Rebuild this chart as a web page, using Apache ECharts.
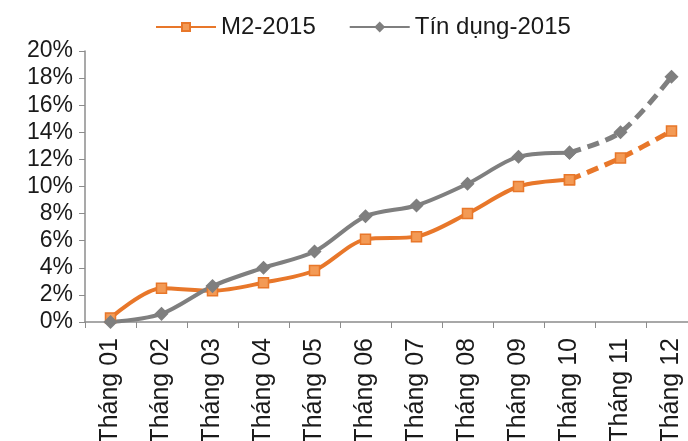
<!DOCTYPE html>
<html>
<head>
<meta charset="utf-8">
<script src="https://cdn.jsdelivr.net/npm/echarts@6/dist/echarts.min.js"></script>
<style>
  html, body { margin: 0; padding: 0; background: #fff; }
  #chart { width: 688px; height: 441px; }
</style>
</head>
<body>
<div id="chart"></div>
<script>
// data (percent)
var months = ["Tháng 01", "Tháng 02", "Tháng 03", "Tháng 04", "Tháng 05", "Tháng 06",
              "Tháng 07", "Tháng 08", "Tháng 09", "Tháng 10", "Tháng 11", "Tháng 12"];
var m2 = [0.3, 2.5, 2.3, 2.9, 3.8, 6.1, 6.3, 8.0, 10.0, 10.5, 12.1, 14.1];
var credit = [0.0, 0.6, 2.65, 4.0, 5.2, 7.8, 8.6, 10.2, 12.2, 12.5, 14.0, 18.1];
var yTicks = [0, 2, 4, 6, 8, 10, 12, 14, 16, 18, 20];
var forecastFrom = 9; // from Tháng 10 the lines are dashed

var ORANGE = "#E8772A";
var GRAY = "#7F7F7F";
var FONT = "Liberation Sans, Arial, sans-serif";

function actual(arr) {
  return arr.map(function (v, i) { return i <= forecastFrom ? v : null; });
}
function forecast(arr) {
  return arr.map(function (v, i) { return i >= forecastFrom ? v : null; });
}

function makeSeries(name, values, color, symbol, size, fill) {
  var base = {
    name: name,
    type: "line",
    smooth: 0.3,
    symbol: symbol,
    symbolSize: size,
    showAllSymbol: true,
    connectNulls: false,
    itemStyle: { color: fill, borderColor: color, borderWidth: 1.5 },
  };
  return [
    Object.assign({}, base, {
      data: actual(values),
      lineStyle: { color: color, width: 4 },
      z: 3,
    }),
    Object.assign({}, base, {
      data: forecast(values),
      lineStyle: { color: color, width: 5, type: [12, 7] },
      z: 2,
    }),
  ];
}

var chart = echarts.init(document.getElementById("chart"), null, { renderer: "canvas" });

chart.setOption({
  animation: false,
  backgroundColor: "#fff",
  legend: {
    data: ["M2-2015", "Tín dụng-2015"],
    left: 150,
    top: 10,
    itemWidth: 60,
    itemHeight: 10,
    itemGap: 33,
    textStyle: { fontFamily: FONT, fontSize: 24, color: "#1a1a1a" },
  },
  // labels run off the bottom edge as in the original, so keep the grid fixed
  grid: { left: 85, right: -9, top: 51, bottom: 119, containLabel: false, outerBoundsMode: "none" },
  xAxis: {
    type: "category",
    data: months,
    boundaryGap: true,
    axisLine: { lineStyle: { color: "#8c8c8c", width: 1.5 } },
    axisTick: { show: true, length: 6, inside: false, lineStyle: { color: "#8c8c8c" } },
    axisLabel: {
      rotate: 90,
      margin: 16,
      interval: 0,
      fontFamily: FONT,
      fontSize: 25,
      color: "#1a1a1a",
    },
    splitLine: { show: false },
  },
  yAxis: {
    type: "value",
    min: yTicks[0],
    max: yTicks[yTicks.length - 1],
    interval: 2,
    axisLine: { show: true, lineStyle: { color: "#8c8c8c", width: 1.5 } },
    axisTick: { show: true, length: 6, lineStyle: { color: "#8c8c8c" } },
    axisLabel: {
      formatter: "{value}%",
      margin: 12,
      fontFamily: FONT,
      fontSize: 23,
      color: "#1a1a1a",
    },
    splitLine: { show: false },
  },
  series: []
    .concat(makeSeries("M2-2015", m2, ORANGE, "rect", 10, "#F39A55"))
    .concat(makeSeries("Tín dụng-2015", credit, GRAY, "diamond", 12, GRAY)),
});
</script>
</body>
</html>
